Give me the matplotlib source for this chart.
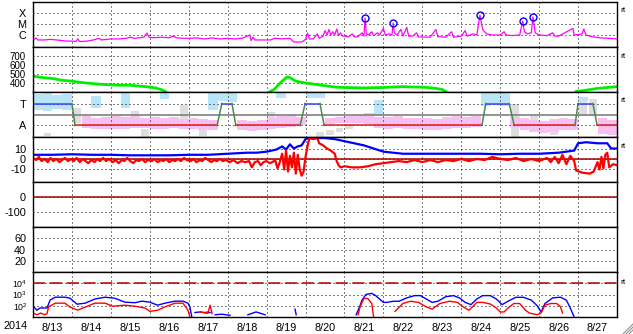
import numpy as np
import matplotlib
matplotlib.use("Agg")
import matplotlib.pyplot as plt
from matplotlib.lines import Line2D

plt.rcParams['font.family'] = ['Liberation Sans', 'DejaVu Sans']
plt.rcParams['mathtext.fontset'] = 'custom'
plt.rcParams['mathtext.rm'] = 'Liberation Sans'
plt.rcParams['mathtext.it'] = 'Liberation Sans'

nan = np.nan
# time axis: days since 2014-08-13 00:00
day_labels = ["8/13", "8/14", "8/15", "8/16", "8/17", "8/18", "8/19", "8/20",
              "8/21", "8/22", "8/23", "8/24", "8/25", "8/26", "8/27"]

# ---- X-ray flux (log10 W/m2) ----
xray_t = [0.0, 0.08, 0.12, 0.3, 0.45, 0.6, 0.75, 0.85, 1.0, 1.1, 1.15, 1.2, 1.4, 1.55, 1.7, 1.75, 1.9,
          2.0, 2.2, 2.4, 2.5, 2.6, 2.75, 2.85, 2.93, 2.98, 3.1, 3.3, 3.5, 3.6, 3.7, 3.9, 4.0, 4.2, 4.4,
          4.6, 4.8, 5.0, 5.2, 5.4, 5.5, 5.57, 5.6, 5.65, 5.7, 5.9, 6.1, 6.2, 6.4, 6.6, 6.7, 6.9, 7.0,
          7.05, 7.1, 7.2, 7.3, 7.35, 7.45, 7.5, 7.55, 7.6, 7.65, 7.7, 7.75, 7.8, 7.85, 7.9, 7.95, 8.0,
          8.1, 8.2, 8.25, 8.35, 8.45, 8.5, 8.53, 8.56, 8.62, 8.7, 8.75, 8.85, 8.9, 9.0, 9.05, 9.15,
          9.22, 9.25, 9.28, 9.35, 9.45, 9.5, 9.6, 9.65, 9.75, 9.85, 9.9, 10.0, 10.2, 10.35, 10.4, 10.6,
          10.75, 10.8, 11.0, 11.1, 11.15, 11.3, 11.4, 11.48, 11.55, 11.65, 11.8, 12.0, 12.1, 12.15,
          12.3, 12.5, 12.58, 12.62, 12.7, 12.8, 12.84, 12.9, 13.0, 13.2, 13.35, 13.4, 13.5, 13.87,
          13.9, 14.1, 14.15, 14.2, 14.4, 14.6, 14.8, 15.0]
xray_log = [-6.45, -6.27, -6.45, -6.45, -6.40, -6.45, -6.50, -6.55, -6.55, -6.60, -6.36, -6.60, -6.55,
            -6.45, -6.30, -6.45, -6.40, -6.36, -6.36, -6.30, -6.20, -6.30, -6.25, -6.18, -5.82, -6.20,
            -6.25, -6.20, -6.25, -6.10, -6.27, -6.30, -6.30, -6.27, -6.36, -6.27, -6.36, -6.30, -6.36,
            -6.27, -6.10, -6.00, -6.50, -6.20, -6.45, -6.45, -6.45, -6.30, -6.35, -6.30, -6.64, -6.64,
            -6.40, -5.82, -6.36, -6.36, -5.90, -6.30, -6.10, -5.60, -6.00, -5.50, -6.00, -5.70, -6.00,
            -5.45, -6.05, -5.80, -6.10, -6.10, -6.18, -5.90, -6.18, -6.15, -5.80, -6.10, -4.45, -5.90,
            -6.00, -5.70, -6.05, -5.80, -6.00, -5.40, -6.00, -5.90, -6.00, -4.91, -5.80, -6.00, -5.50,
            -6.10, -5.30, -6.10, -6.10, -5.80, -6.18, -6.18, -6.20, -5.50, -6.15, -6.20, -5.70, -6.20,
            -6.10, -5.60, -6.10, -5.90, -6.00, -4.18, -5.50, -5.90, -6.00, -6.00, -5.70, -6.00, -6.05,
            -6.00, -4.73, -5.70, -5.90, -5.80, -4.36, -5.80, -6.00, -6.05, -5.80, -6.10, -6.10, -5.40,
            -6.00, -5.90, -5.45, -6.00, -6.18, -6.27, -6.30, -6.36]
flare_t = [8.53, 9.25, 11.48, 12.58, 12.84]
flare_log = [-4.45, -4.91, -4.18, -4.73, -4.36]

# ---- solar wind speed (km/s) ----
speed_t = [0.0, 0.1, 0.25, 0.5, 0.75, 1.0, 1.25, 1.5, 1.75, 2.0, 2.25, 2.5, 2.75, 3.0, 3.15, 3.3, 3.4,
           3.45, 6.05, 6.09, 6.2, 6.3, 6.4, 6.5, 6.55, 6.62, 6.75, 7.0, 7.25, 7.5, 7.75, 8.0, 8.5, 9.0,
           9.25, 9.5, 9.75, 10.0, 10.25, 10.5, 10.6, 10.65, 13.9, 13.95, 14.2, 14.5, 14.75, 15.0]
speed_v = [475, 470, 460, 450, 430, 420, 405, 395, 385, 380, 375, 375, 365, 355, 345, 325, 305,
           nan, nan, 305, 330, 380, 420, 460, 470, 455, 420, 400, 385, 370, 355, 350, 345, 350,
           355, 360, 355, 355, 345, 330, 305, nan, nan, 305, 320, 340, 350, 360]

# ---- IMF sector (T = +1, A = -1) ----
sector_t = [0, 1.0, 1.08, 4.73, 4.85, 5.11, 5.21, 6.86, 6.99, 7.37, 7.48, 11.53, 11.63, 12.23,
            12.36, 13.92, 14.0, 14.38, 14.49, 15.0]
sector_v = [1, 1, -1, -1, 1, 1, -1, -1, 1, 1, -1, -1, 1, 1, -1, -1, 1, 1, -1, -1]
# IMF angle clouds (6-hour bins: centre, low, high)
cyan_t = [0.125, 0.375, 0.625, 0.875, 1.625, 2.375, 3.375, 4.625, 4.875, 5.125, 6.375, 7.125,
          7.375, 8.875, 11.625, 11.875, 12.125, 14.125]
cyan_lo = [0.4, 0.3, 0.5, 0.4, 0.6, 0.6, 1.4, 0.4, 1.2, 1.1, 1.5, 1.5, 1.5, -0.1, 0.8, 0.9, 0.8, 1.2]
cyan_hi = [1.9, 1.9, 1.8, 1.9, 1.7, 2.0, 2.0, 2.0, 2.0, 2.0, 2.0, 2.0, 2.0, 1.3, 2.0, 2.0, 2.0, 1.6]
pink_t = [1.375, 1.625, 1.875, 2.125, 2.375, 2.625, 2.875, 3.125, 3.375, 3.625, 3.875, 4.125,
          4.375, 4.625, 5.375, 5.625, 5.875, 6.125, 6.375, 6.625, 6.875, 7.625, 7.875, 8.125,
          8.375, 8.625, 8.875, 9.125, 9.375, 9.625, 9.875, 10.125, 10.375, 10.625, 10.875,
          11.125, 11.375, 12.375, 12.625, 12.875, 13.125, 13.375, 13.625, 13.875, 14.625, 14.875]
pink_lo = [-1.27, -1.3, -1.3, -1.35, -1.3, -1.25, -1.2, -1.3, -1.3, -1.2, -1.3, -1.35, -1.4,
           -1.45, -1.4, -1.5, -1.45, -1.3, -1.2, -1.1, -1.0, -0.9, -0.8, -0.8, -0.8, -0.9, -1.2,
           -1.3, -1.2, -1.3, -1.35, -1.4, -1.4, -1.3, -1.2, -1.2, -1.1, -1.1, -1.4, -1.6, -1.7,
           -1.6, -1.4, -1.4, -1.8, -1.9]
pink_hi = [-0.18, -0.3, -0.2, -0.1, -0.2, -0.15, -0.3, -0.2, -0.3, -0.2, -0.4, -0.3, -0.4, -0.5,
           -0.5, -0.6, -0.5, -0.3, -0.1, 0.0, -0.2, -0.3, -0.2, -0.1, 0.0, 0.1, -0.2, -0.2, -0.1,
           -0.3, -0.35, -0.3, -0.4, -0.2, -0.1, -0.2, -0.1, -0.2, -0.3, -0.5, -0.6, -0.4, -0.3,
           -0.4, -0.3, -0.5]
gray_t = [0.375, 0.375, 1.125, 2.625, 2.875, 3.875, 4.375, 6.125, 7.125, 7.375, 7.625, 7.875,
          8.125, 11.875, 12.375, 12.875, 13.375, 14.125, 14.375]
gray_lo = [1.7, -2.0, -0.8, -0.4, -2.1, -0.8, -2.0, -1.3, 1.5, -2.1, -1.9, -1.6, -1.3, 1.6, -2.1,
           -1.1, -1.9, -0.1, -0.1]
gray_hi = [2.0, -1.7, 0.6, 0.3, -1.3, 0.9, -0.5, 0.2, 2.0, -1.6, -1.4, -1.2, -0.9, 2.0, 1.0, 0.0,
           -1.2, 1.5, 1.4]

# ---- IMF Bt and Bz (nT) ----
bt_t = [0, 0.5, 1, 1.5, 2, 2.5, 3, 3.5, 4, 4.5, 5, 5.5, 5.75, 6.0, 6.25, 6.4, 6.5, 6.6, 6.7, 6.8,
        6.9, 7.0, 7.1, 7.5, 7.75, 8.0, 8.25, 8.5, 8.75, 9.0, 9.25, 9.5, 10, 10.5, 11, 11.5, 12,
        12.5, 13.0, 13.5, 13.9, 14.0, 14.2, 14.5, 14.75, 14.85, 15]
bt_v = [4, 4, 4.5, 4, 4, 3.5, 3.5, 3.5, 4, 4, 5, 6, 6, 7, 9, 12, 9, 14, 10, 12, 13, 19, 20, 20,
        19, 17, 15, 13, 10, 7, 6, 5, 5, 5, 5, 5, 4.5, 5, 5, 6, 8, 15, 16, 15, 15, 10, 10]
bz_t = [0.0, 0.08, 0.15, 0.22, 0.3, 0.38, 0.45, 0.52, 0.6, 0.68, 0.75, 0.82, 0.9, 0.98, 1.05, 1.12,
        1.2, 1.28, 1.35, 1.42, 1.5, 1.58, 1.65, 1.72, 1.8, 1.88, 1.95, 2.05, 2.12, 2.2, 2.28, 2.35,
        2.42, 2.5, 2.58, 2.65, 2.72, 2.8, 2.88, 2.95, 3.05, 3.12, 3.2, 3.28, 3.35, 3.42, 3.5, 3.58,
        3.65, 3.72, 3.8, 3.88, 3.95, 4.05, 4.12, 4.2, 4.28, 4.35, 4.42, 4.5, 4.58, 4.65, 4.72, 4.8,
        4.88, 4.95, 5.05, 5.15, 5.25, 5.35, 5.45, 5.55, 5.62, 5.7, 5.78, 5.85, 5.92, 6.0, 6.08,
        6.15, 6.22, 6.28, 6.33, 6.4, 6.45, 6.5, 6.55, 6.6, 6.65, 6.7, 6.75, 6.8, 6.85, 6.9, 6.95,
        7.0, 7.05, 7.1, 7.2, 7.3, 7.35, 7.45, 7.55, 7.65, 7.75, 7.8, 7.85, 7.9, 8.0, 8.2, 8.4, 8.6,
        8.8, 9.0, 9.2, 9.4, 9.6, 9.8, 10.0, 10.2, 10.4, 10.6, 10.8, 11.0, 11.2, 11.4, 11.6, 11.8,
        12.0, 12.2, 12.4, 12.6, 12.8, 13.0, 13.2, 13.3, 13.4, 13.5, 13.6, 13.7, 13.8, 13.9, 13.95,
        14.1, 14.3, 14.4, 14.5, 14.55, 14.6, 14.65, 14.7, 14.75, 14.8, 14.9, 15.0]
bz_v = [1, -1, 2, -2, 0, -3, 1, -2, 0, -3, -1, 1, -2, 0, -2, 1, -3, 0, -2, -4, -1, -3, 0, -2, 1,
        -2, 0, -3, -1, -4, -1, -2, 1, -2, -4, -1, -2, 0, -3, -1, -2, 0, -3, -1, -2, 0, -3, -1, -2,
        0, -2, 1, -1, -2, 0, -3, -1, -2, 1, -1, -3, -1, -2, 0, -2, -1, -3, -1, -4, -2, -3, -2, -8,
        -3, -2, -6, -3, -2, -4, -3, -1, -9, -4, 5, -10, 8, -12, 3, -8, 6, -14, 4, -10, -16, -12, 2,
        12, 20, 19, 20, 15, 13, 10, 8, 5, -2, -6, -8, -7, -8, -8, -7, -5, -4, -3, -2, -3, -1, -3,
        -1, -3, -1, -2, 0, -2, 0, -1, 2, 0, -1, 1, -2, 0, -2, 1, -3, 2, -4, 4, -5, 3, -2, -11,
        -13, -14, -12, -3, -10, 2, -9, 4, 6, -8, -5, -6]

# ---- energetic electron flux ----
e_blue_t = [0.0, 0.1, 0.18, 0.36, 0.44, 0.57, 0.82, 0.95, 1.13, 1.34, 1.59, 1.85, 2.1, 2.36, 2.62,
            2.8, 3.0, 3.2, 3.39, 3.65, 3.85, 3.98, 4.03, 4.08, 4.1, 4.16, 4.3, 4.45, 4.55, 4.6,
            4.68, 4.85, 5.06, 5.1, 5.5, 5.52, 5.73, 5.96, 6.0, 6.7, 6.73, 6.76, 6.8,
            8.3, 8.4, 8.45, 8.55, 8.7, 8.8, 8.9, 9.0, 9.1, 9.25, 9.4, 9.6, 9.8, 9.95, 10.1, 10.25,
            10.4, 10.6, 10.8, 10.95, 11.1, 11.25, 11.4, 11.55, 11.75, 11.9, 12.05, 12.2, 12.4,
            12.6, 12.8, 12.95, 13.05, 13.15, 13.35, 13.55, 13.7, 13.8, 13.9]
e_blue_v = [2.0, 1.6, 1.8, 1.8, 2.5, 2.76, 2.76, 2.67, 2.14, 2.23, 2.6, 2.76, 2.67, 2.32, 2.27,
            2.41, 2.32, 2.05, 2.23, 2.41, 2.41, 2.23, 1.88, 1.0, nan, 1.4, 1.45, 1.35, 1.4, nan,
            1.2, 1.25, 1.15, nan, nan, 1.2, 1.45, 1.2, nan, nan, 1.7, 1.2, nan,
            1.2, 2.0, 2.5, 3.0, 3.1, 2.9, 2.6, 2.3, 2.3, 2.4, 2.4, 2.7, 2.9, 2.9, 2.6, 2.3,
            2.4, 2.8, 2.9, 2.7, 2.3, 2.1, 2.6, 2.9, 2.9, 2.6, 2.1, 2.4, 2.75,
            2.75, 2.5, 2.0, 1.45, 2.2, 2.7, 2.76, 2.5, 1.8, 1.0]
e_red_t = [0.0, 0.1, 0.2, 0.3, 0.36, 0.4, 0.57, 0.82, 0.95, 1.15, 1.34, 1.59, 1.85, 2.05, 2.36,
           2.62, 2.88, 3.0, 3.2, 3.39, 3.65, 3.85, 3.98, 4.03, 4.05, 4.3, 4.4, 4.5, 4.55, 4.6, 4.62,
           8.35, 8.4, 8.5, 8.6, 8.7, 8.75, 8.78, 9.3, 9.5, 9.7, 9.9, 10.1, 10.25, 10.45, 10.7,
           10.9, 11.05, 11.2, 11.4, 11.55, 11.75, 11.9, 12.0, 12.1, 12.2, 12.35, 12.5, 12.65,
           12.75, 12.95, 13.05, 13.15, 13.3, 13.45, 13.55, 13.6]
e_red_v = [1.35, 1.2, 1.35, 1.2, 1.3, 1.9, 2.23, 2.23, 1.88, 1.61, 1.88, 2.23, 2.23, 1.96, 2.05,
           1.96, 1.79, 1.5, 1.6, 1.9, 2.23, 2.23, 1.61, 1.0, nan, 1.43, 1.4, 1.45, 2.05, 1.3, nan,
           1.2, 1.9, 2.65, 2.65, 2.2, 1.0, nan, 1.5, 2.2, 2.4, 2.3, 1.9, 1.7, 2.2, 2.4,
           2.3, 1.9, 1.6, 2.3, 2.3, 2.15, 1.8, 1.45, 1.45, 1.8, 2.2, 2.2, 1.6,
           1.35, 1.2, 1.35, 2.05, 2.2, 2.2, 1.9, 1.35]

# ---------------- figure ----------------
W, H = 633, 334
FS = 7.8
fig = plt.figure(figsize=(W / 100, H / 100), dpi=100)
L, R = 33, 617
PH = 45
axes = []
for i in range(7):
    top = 2 + PH * i
    ax = fig.add_axes([L / W, 1 - (top + PH) / H, (R - L) / W, PH / H])
    ax.set_xlim(0, 15)
    ax.set_xticks(np.arange(1, 15))
    ax.tick_params(length=0, labelbottom=False, labelsize=FS, pad=5)
    ax.grid(True, which='major', color='black', lw=0.72, ls=(0, (1, 3)))
    for s in ax.spines.values():
        s.set_linewidth(1.0)
    axes.append(ax)

# panel 1: x-ray
a = axes[0]
a.set_yscale('log')
a.set_ylim(10 ** -7.09, 1e-3)
a.set_yticks([1e-4, 1e-5, 1e-6], ['X', 'M', 'C'])
a.minorticks_off()
a.set_xticks(np.arange(1, 15))
a.plot(xray_t, 10 ** np.array(xray_log), color='#ff00ff', lw=0.9)
a.plot(flare_t, 10 ** np.array(flare_log), 'o', mfc='none', mec='#0000ff', ms=5, mew=1.0)

# panel 2: speed
a = axes[1]
a.set_ylim(300, 800)
a.set_yticks([400, 500, 600, 700], ['400', '500', '600', '700'])
a.tick_params(axis='y', labelsize=7.0)
a.plot(speed_t, speed_v, color='#00ee00', lw=2.0)

# panel 3: sector
a = axes[2]
a.set_ylim(-2.05, 2.05)
a.set_yticks([1, -1], ['T', 'A'])
a.bar(gray_t, np.array(gray_hi) - np.array(gray_lo), bottom=gray_lo, width=0.2,
      color='#dedede', lw=0)
a.bar(pink_t, np.array(pink_hi) - np.array(pink_lo), bottom=pink_lo, width=0.25,
      color='#f6c0f2', lw=0)
a.bar(cyan_t, np.array(cyan_hi) - np.array(cyan_lo), bottom=cyan_lo, width=0.25,
      color='#b8e6f8', lw=0)
a.axhline(0, color='#808080', lw=1.2)
for i in range(len(sector_t) - 1):
    v0, v1 = sector_v[i], sector_v[i + 1]
    c = '#4040ff' if (v0 == 1 and v1 == 1) else ('#e02020' if (v0 == -1 and v1 == -1) else '#4a8a4a')
    a.plot(sector_t[i:i + 2], sector_v[i:i + 2], color=c, lw=1.1)

# panel 4: Bt, Bz
a = axes[3]
a.set_ylim(-22, 21)
a.set_yticks([10, 0, -10], ['10', '0', '-10'])
a.axhline(0, color='#a00000', lw=1.1)
a.plot(bt_t, bt_v, color='#0000ff', lw=1.6)
a.plot(bz_t, bz_v, color='#ff0000', lw=1.6)

# panel 5
a = axes[4]
a.set_ylim(-200, 100)
a.set_yticks([0, -100], ['0', '-100'])
a.axhline(0, color='#a00000', lw=1.1)

# panel 6
a = axes[5]
a.set_ylim(0, 80)
a.set_yticks([20, 40, 60], ['20', '40', '60'])

# panel 7: electrons
a = axes[6]
a.set_yscale('log')
a.set_ylim(10, 1e5)
a.set_yticks([1e4, 1e3, 1e2], [r'$10^4$', r'$10^3$', r'$10^2$'])
a.tick_params(axis='y', labelsize=6.3, pad=4)
a.minorticks_off()
a.set_xticks(np.arange(1, 15))
a.axhline(1e4, color='#b00000', lw=1.1, ls=(0, (8, 3)))
a.plot(e_blue_t, 10 ** np.array(e_blue_v), color='#0000ff', lw=1.0)
a.plot(e_red_t, 10 ** np.array(e_red_v), color='#ff0000', lw=1.0)
a.set_xticks(np.arange(15) + 0.5, day_labels, minor=True)
a.tick_params(which='minor', length=0, labelsize=FS, pad=4, labelbottom=True)

for ax in axes:
    ax.set_xlim(0, 15)

fig.text(4 / W, 1 - 326 / H, '2014', fontsize=FS, va='center', ha='left')
for yy in [11, 56, 101, 146, 282]:
    fig.text(620 / W, 1 - yy / H, 'rt', fontsize=6, va='center', ha='left')

for k in [4, 7, 10]:
    fig.add_artist(Line2D([(W - k) / W, W / W], [0, k / H], color='#909090', lw=0.8,
                          transform=fig.transFigure))

fig.savefig('out.png', dpi=100)
